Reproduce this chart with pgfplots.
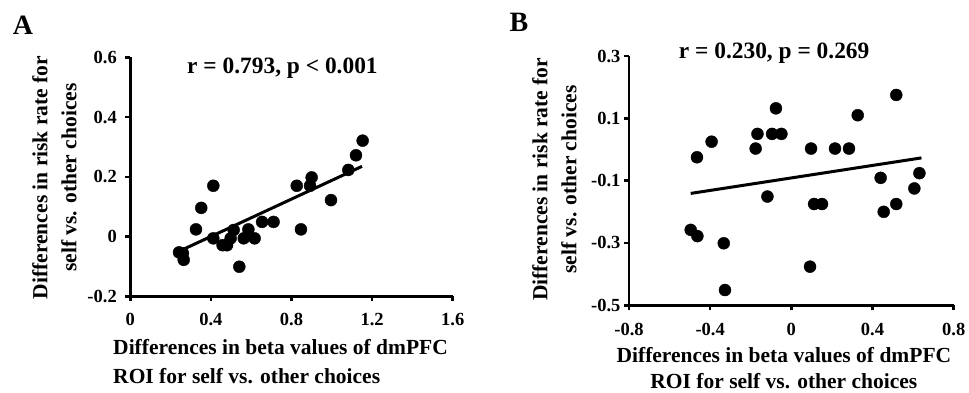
\documentclass[border=0pt]{standalone}
\usepackage{pgfplots}
\pgfplotsset{compat=1.18}
\usepackage{fontspec}
\setmainfont{Liberation Serif}
\pgfplotsset{
  myax/.style={
    scale only axis,
    axis x line*=bottom, axis y line*=left,
    axis line style={line width=2.5pt, black},
    every tick/.style={line width=2.5pt, black},
    major tick length=5pt,
    tick align=outside,
    tick label style={font=\fontsize{18.5}{20}\selectfont\bfseries},
    xlabel style={font=\fontsize{21.5}{29.5}\selectfont\bfseries, inner sep=0pt},
    ylabel style={font=\fontsize{21.5}{29}\selectfont\bfseries, inner sep=0pt, rotate=0},
    clip=false,
  },
}
\begin{document}
\begin{tikzpicture}
\path[use as bounding box] (0,0) rectangle (969pt,393pt);
% Panel A
\begin{axis}[myax,
  at={(130.3pt,96.7pt)}, anchor=south west,
  width=322.4pt, height=239pt,
  xmin=0, xmax=1.6, ymin=-0.2, ymax=0.6,
  xtick={0,0.4,0.8,1.2,1.6}, xticklabels={0,0.4,0.8,1.2,1.6},
  ytick={-0.2,0,0.2,0.4,0.6}, yticklabels={-0.2,0,0.2,0.4,0.6},
  yticklabel style={xshift=-5pt},
  xticklabel style={yshift=-8pt},
  xlabel={Differences in beta values of dmPFC\\ROI for self vs. other choices},
  xlabel style={at={(axis description cs:0.466,-0.179)}, anchor=north, align=left},
  ylabel={Differences in risk rate for\\self vs. other choices},
  ylabel style={at={(axis description cs:-0.305,0.497)}, anchor=north, align=center},
]
\addplot[only marks, mark=*, mark size=6pt, black] table {
x y
0.242 -0.053
0.261 -0.056
0.265 -0.078
0.326 0.024
0.352 0.096
0.412 0.170
0.412 -0.006
0.458 -0.029
0.480 -0.029
0.498 -0.006
0.513 0.022
0.541 -0.101
0.563 -0.006
0.586 0.024
0.617 -0.006
0.654 0.049
0.711 0.049
0.826 0.170
0.847 0.024
0.892 0.170
0.900 0.198
0.996 0.122
1.082 0.223
1.120 0.272
1.153 0.321
};
\addplot[no marks, line width=3pt, black] coordinates {(0.24,-0.05) (1.15,0.235)};
\node[font=\fontsize{23.4}{26}\selectfont\bfseries] at (axis description cs:0.472,0.955) {r = 0.793, p < 0.001};
\node[font=\fontsize{28}{30}\selectfont\bfseries] at (axis description cs:-0.333,1.135) {A};
\end{axis}
% Panel B
\begin{axis}[myax,
  at={(629pt,87.7pt)}, anchor=south west,
  width=324.7pt, height=249.3pt,
  xmin=-0.8, xmax=0.8, ymin=-0.5, ymax=0.3,
  xtick={-0.8,-0.4,0,0.4,0.8}, xticklabels={-0.8,-0.4,0,0.4,0.8},
  ytick={-0.5,-0.3,-0.1,0.1,0.3}, yticklabels={-0.5,-0.3,-0.1,0.1,0.3},
  xticklabel style={yshift=-9pt},
  xlabel={Differences in beta values of dmPFC\\ROI for self vs. other choices},
  xlabel style={at={(axis description cs:0.477,-0.166)}, anchor=north, align=center, font=\fontsize{21.5}{26}\selectfont\bfseries},
  ylabel={Differences in risk rate for\\self vs. other choices},
  ylabel style={at={(axis description cs:-0.299,0.505)}, anchor=north, align=center},
]
\addplot[only marks, mark=*, mark size=6pt, black] table {
x y
-0.496 -0.258
-0.463 -0.278
-0.465 -0.025
-0.393 0.025
-0.333 -0.301
-0.327 -0.451
-0.176 0.003
-0.167 0.050
-0.118 -0.151
-0.095 0.050
-0.076 0.132
-0.049 0.050
0.097 0.003
0.092 -0.376
0.112 -0.175
0.151 -0.175
0.215 0.003
0.284 0.003
0.327 0.110
0.440 -0.091
0.455 -0.200
0.517 0.175
0.517 -0.175
0.606 -0.125
0.631 -0.076
};
\addplot[no marks, line width=3pt, black] coordinates {(-0.496,-0.141) (0.641,-0.027)};
\node[font=\fontsize{23.4}{26}\selectfont\bfseries] at (axis description cs:0.447,1.012) {r = 0.230, p = 0.269};
\node[font=\fontsize{28}{30}\selectfont\bfseries] at (axis description cs:-0.339,1.136) {B};
\end{axis}
\end{tikzpicture}
\end{document}
